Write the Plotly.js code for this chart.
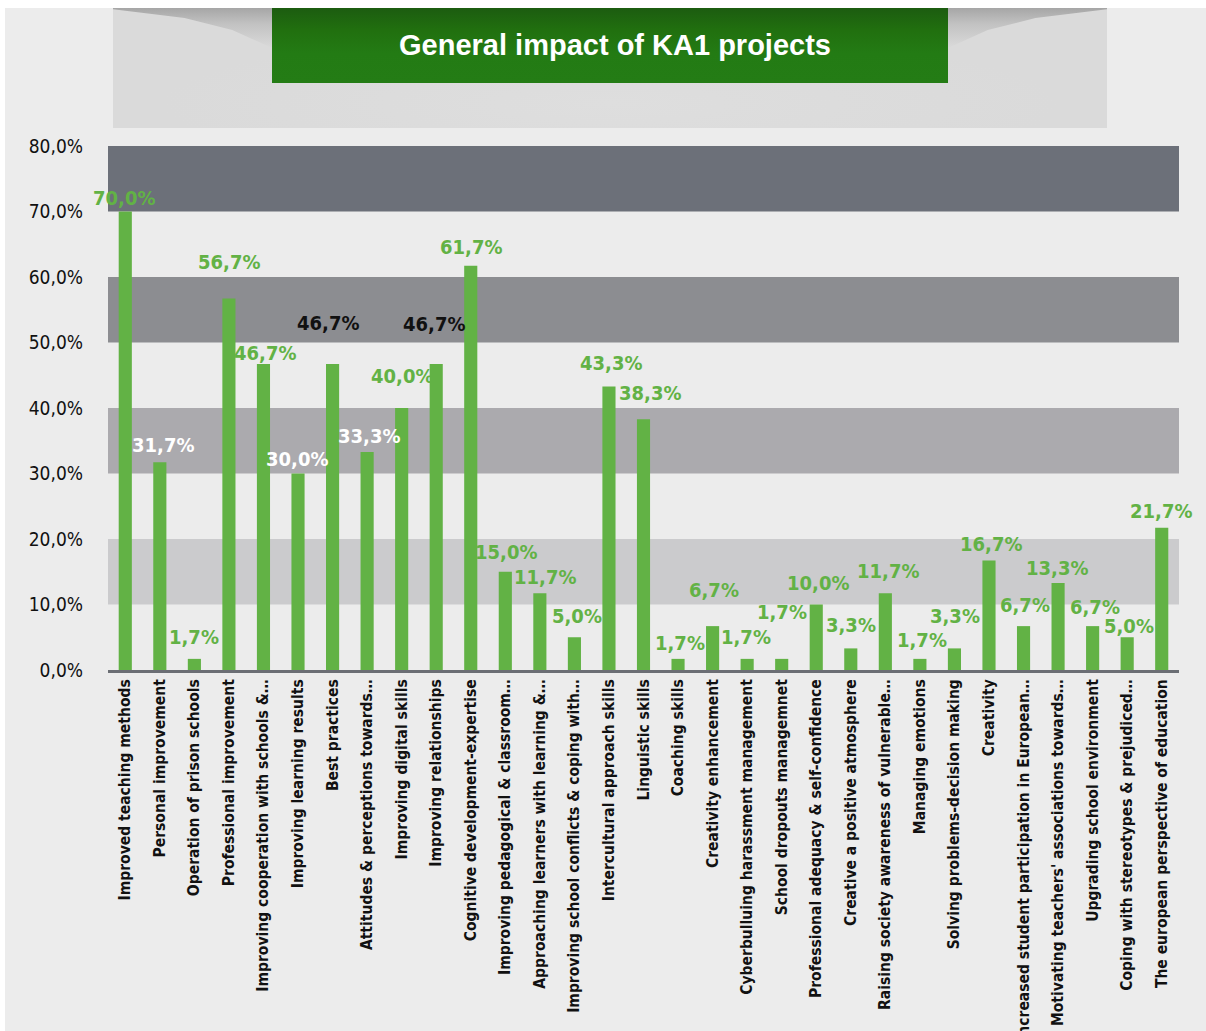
<!DOCTYPE html>
<html><head><meta charset="utf-8">
<script src="https://cdn.plot.ly/plotly-3.0.1.min.js"></script>
<style>
html,body{margin:0;padding:0;background:#fff;width:1206px;height:1031px;overflow:hidden}
#frame{position:absolute;left:5px;top:8px;width:1201px;height:1023px;background:#ececec}
#tbox{position:absolute;left:108px;top:0;width:994px;height:120px;
  background:radial-gradient(ellipse 45% 60% at 50% 80%, #dedede 0%, #dadada 100%)}
.shadow{position:absolute;top:0;height:40px;width:159px}
#shL{left:108px;background:linear-gradient(to bottom,#a6a6a6 0%,#c2c2c2 40%,rgba(218,218,218,0) 100%);
  clip-path:polygon(0 0,100% 0,100% 100%,75% 55%,45% 25%,0 3%)}
#shR{left:943px;background:linear-gradient(to bottom,#a6a6a6 0%,#c2c2c2 40%,rgba(218,218,218,0) 100%);
  clip-path:polygon(0 0,100% 0,100% 3%,55% 25%,25% 55%,0 100%)}
#gbox{position:absolute;left:267px;top:0;width:676px;height:75px;
  background:linear-gradient(to bottom,#1c5c10 0%,#21700f 30%,#237b14 60%,#247c15 100%)}
#chart{position:absolute;left:0;top:0;width:1201px;height:1023px}
</style>
</head>
<body>
<div id="frame">
  <div id="tbox"></div>
  <div class="shadow" id="shL"></div>
  <div class="shadow" id="shR"></div>
  <div id="gbox"></div>
  <div id="chart"></div>
</div>
<script>
const chartTitle = "General impact of KA1 projects";

const categories = [
  "Improved teaching methods",
  "Personal improvement",
  "Operation of prison schools",
  "Professional improvement",
  "Improving cooperation with schools &…",
  "Improving learning results",
  "Best practices",
  "Attitudes & perceptions towards…",
  "Improving digital skills",
  "Improving relationships",
  "Cognitive development-expertise",
  "Improving pedagogical & classroom…",
  "Approaching learners with learning &…",
  "Improving school conflicts & coping with…",
  "Intercultural approach skills",
  "Linguistic skills",
  "Coaching skills",
  "Creativity enhancement",
  "Cyberbulluing harassment management",
  "School dropouts managemnet",
  "Professional adequacy & self-confidence",
  "Creative a positive atmosphere",
  "Raising society awareness of vulnerable…",
  "Managing emotions",
  "Solving problems-decision making",
  "Creativity",
  "Increased student participation in European…",
  "Motivating teachers' associations towards…",
  "Upgrading school environment",
  "Coping with stereotypes & prejudiced…",
  "The european perspective of education"
];

const values = [70.0, 31.7, 1.7, 56.7, 46.7, 30.0, 46.7, 33.3, 40.0, 46.7,
                61.7, 15.0, 11.7, 5.0, 43.3, 38.3, 1.7, 6.7, 1.7, 1.7,
                10.0, 3.3, 11.7, 1.7, 3.3, 16.7, 6.7, 13.3, 6.7, 5.0, 21.7];

const yTickValues = [0, 10, 20, 30, 40, 50, 60, 70, 80];
const yTickLabels = ["0,0%", "10,0%", "20,0%", "30,0%", "40,0%", "50,0%", "60,0%", "70,0%", "80,0%"];

// shaded horizontal bands [from, to]
const bandLows  = [10, 30, 50, 70];
const bandHighs = [20, 40, 60, 80];

// --- styles (not data) ---
const bandColors = ["#cbcbcd", "#abaaae", "#8c8d91", "#6c7079"];
const GREEN = "#62b245";
const labelColors = categories.map(() => GREEN);
[1, 5, 7].forEach(i => labelColors[i] = "#ffffff");
[6, 9].forEach(i => labelColors[i] = "#111111");
// label offsets in pixels relative to top of bar
const labelDx = [-1, 3.5, 0, 0, 1.5, -1.5, -5, 1.5, 0, -2, 0, 1, 5, 3, 2, 6, 1.5, 1, -1.5, 0,
                 2, 0, 3, 2, 1, 2.5, 1, -1, 2, 2, -1];
const labelDy = [13, 16, 21, 36, 10, 14, 40, 15, 31, 39, 18, 19, 15, 20, 22, 25, 15, 35, 21, 46,
                 21, 22, 21, 18, 31, 16, 20, 14, 18, 10, 16];

const FONT = "'DejaVu Sans Condensed', 'Liberation Sans Narrow', 'DejaVu Sans', sans-serif";

function fmt(v) { return v.toFixed(1).replace('.', ',') + '%'; }

const trace = {
  type: 'bar',
  x: categories,
  y: values,
  marker: { color: GREEN },
  width: 0.38,
  hoverinfo: 'x+y'
};

const shapes = bandLows.map((lo, i) => ({
  type: 'rect', xref: 'paper', yref: 'y', x0: 0, x1: 1, y0: lo, y1: bandHighs[i],
  fillcolor: bandColors[i], line: { width: 0 }, layer: 'below'
}));

const annotations = values.map((v, i) => ({
  x: categories[i], y: v, xref: 'x', yref: 'y',
  text: fmt(v), showarrow: false,
  xanchor: 'center', yanchor: 'middle',
  xshift: labelDx[i], yshift: labelDy[i] + 1,
  font: { family: FONT, size: 20, color: labelColors[i], weight: 'bold' }
}));

const layout = {
  width: 1201, height: 1023,
  margin: { l: 103, r: 27, t: 138, b: 361 },
  paper_bgcolor: 'rgba(0,0,0,0)',
  plot_bgcolor: 'rgba(0,0,0,0)',
  showlegend: false,
  title: {
    text: chartTitle,
    xref: 'container', yref: 'container',
    x: 610 / 1201, xanchor: 'center',
    y: 1 - 37 / 1023, yanchor: 'middle',
    font: { family: "'Liberation Sans', Arial, sans-serif", size: 29, color: '#ffffff', weight: 'bold' }
  },
  xaxis: {
    type: 'category',
    range: [-0.5, categories.length - 0.5],
    showline: true, linecolor: '#6b6e74', linewidth: 3,
    ticks: '', tickangle: -90,
    tickfont: { family: FONT, size: 15.5, color: '#111111', weight: 'bold' },
    showgrid: false, zeroline: false, fixedrange: true
  },
  yaxis: {
    range: [0, 80],
    tickmode: 'array', tickvals: yTickValues, ticktext: yTickLabels,
    tickfont: { family: FONT, size: 19, color: '#111111' },
    ticks: '', ticklabelstandoff: 24,
    showgrid: false, zeroline: false, showline: false, fixedrange: true
  },
  shapes: shapes,
  annotations: annotations
};

Plotly.newPlot('chart', [trace], layout, { displayModeBar: false, staticPlot: true });
</script>
</body></html>
